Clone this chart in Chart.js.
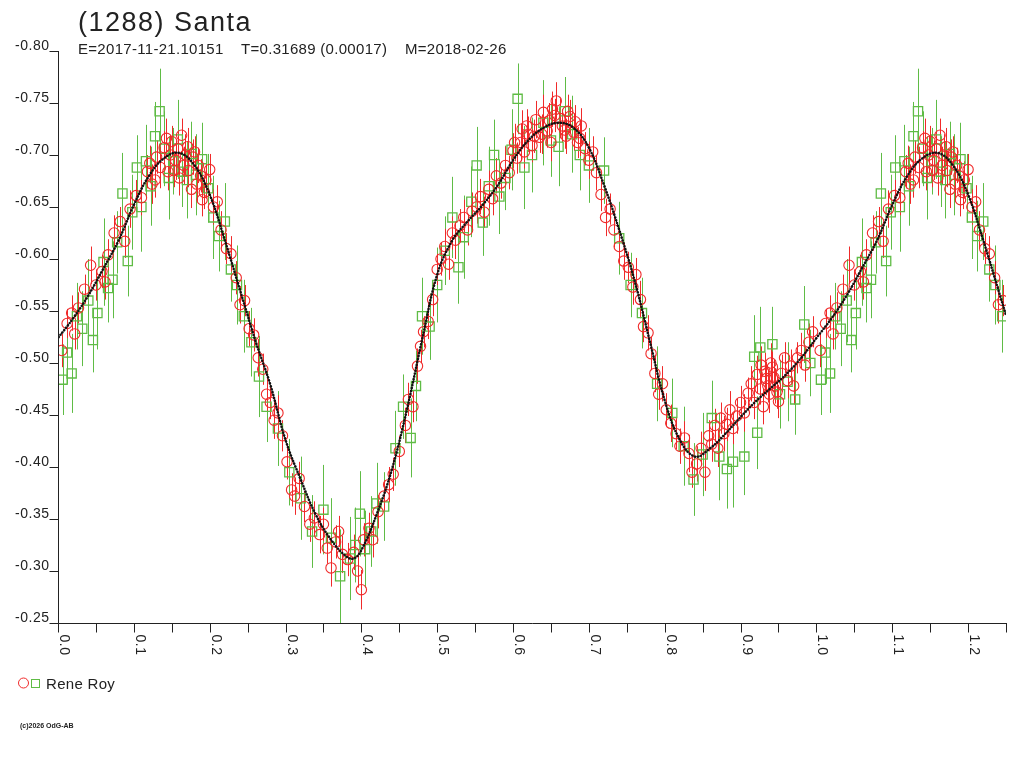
<!DOCTYPE html>
<html><head><meta charset="utf-8">
<script src="https://cdn.jsdelivr.net/npm/chart.js@4.4.0/dist/chart.umd.min.js"></script>
<style>html,body{margin:0;padding:0;background:#fff;overflow:hidden}canvas{display:block}</style>
</head><body>
<canvas id="c" width="1024" height="768"></canvas>
<script>
const titleText = "(1288) Santa";
const subE = "E=2017-11-21.10151";
const subT = "T=0.31689 (0.00017)";
const subM = "M=2018-02-26";
const legendLabel = "Rene Roy";
const creditText = "(c)2026 OdG-AB";

const xMajorTicks = [0.0,0.1,0.2,0.3,0.4,0.5,0.6,0.7,0.8,0.9,1.0,1.1,1.2];
const xMajorLabels = ["0.0","0.1","0.2","0.3","0.4","0.5","0.6","0.7","0.8","0.9","1.0","1.1","1.2"];
const xMinorTicks = [0.05,0.15,0.25,0.35,0.45,0.55,0.65,0.75,0.85,0.95,1.05,1.15,1.25];
const yTicks = [-0.80,-0.75,-0.70,-0.65,-0.60,-0.55,-0.50,-0.45,-0.40,-0.35,-0.30,-0.25];
const yLabels = ["-0.80","-0.75","-0.70","-0.65","-0.60","-0.55","-0.50","-0.45","-0.40","-0.35","-0.30","-0.25"];

// Red circles (phase, magnitude, error)
const redPhase = [0.005,0.012,0.018,0.027,0.035,0.043,0.050,0.058,0.066,0.074,0.082,0.088,0.095,0.103,0.110,0.118,0.124,0.130,0.135,0.140,
0.145,0.150,0.155,0.160,0.163,0.168,0.172,0.176,0.180,0.185,0.190,0.195,0.200,0.205,0.210,0.215,0.222,0.228,0.235,0.240,
0.246,0.252,0.258,0.264,0.270,0.275,0.280,0.285,0.290,0.296,0.302,0.308,0.312,0.318,0.325,0.332,0.338,0.345,0.350,0.355,
0.360,0.366,0.370,0.375,0.382,0.390,0.395,0.400,0.403,0.410,0.415,0.422,0.430,0.436,0.442,0.450,0.458,0.462,0.468,0.474,
0.478,0.482,0.488,0.494,0.500,0.505,0.510,0.515,0.520,0.524,0.530,0.535,0.540,0.546,0.552,0.557,0.562,0.568,0.573,0.578,
0.584,0.590,0.595,0.600,0.605,0.610,0.615,0.620,0.625,0.630,0.635,0.640,0.645,0.650,0.655,0.657,0.665,0.670,0.675,0.680,
0.685,0.690,0.695,0.700,0.705,0.710,0.716,0.722,0.728,0.733,0.740,0.746,0.752,0.758,0.762,0.768,0.772,0.778,0.782,0.787,
0.792,0.797,0.802,0.808,0.815,0.820,0.826,0.832,0.836,0.842,0.848,0.853,0.858,0.862,0.866,0.870,0.874,0.878,0.882,0.886,
0.890,0.895,0.900,0.905,0.910,0.914,0.918,0.922,0.926,0.930,0.934,0.938,0.942,0.946,0.950,0.954,0.958,0.962,0.966,0.970,
0.975,0.980,0.985,0.990,0.995,0.128,0.148,0.158,0.166,0.178,0.188,0.612,0.628,0.648,0.662,0.672,0.688,
0.932,0.936,0.940,0.944,0.948,0.927,0.121,0.143,0.153,0.171,0.183,0.193,0.602,0.618,0.638,0.652,0.668,0.682,0.022,0.062];
const redMag = [-0.512,-0.538,-0.548,-0.553,-0.571,-0.594,-0.575,-0.588,-0.604,-0.625,-0.636,-0.617,-0.648,-0.661,-0.659,-0.684,-0.672,-0.698,-0.688,-0.707,
-0.684,-0.713,-0.695,-0.678,-0.719,-0.700,-0.685,-0.667,-0.703,-0.690,-0.657,-0.676,-0.686,-0.650,-0.655,-0.628,-0.610,-0.605,-0.582,-0.556,
-0.560,-0.533,-0.527,-0.505,-0.494,-0.470,-0.462,-0.445,-0.452,-0.430,-0.405,-0.378,-0.372,-0.389,-0.362,-0.345,-0.351,-0.335,-0.345,-0.322,
-0.303,-0.328,-0.338,-0.316,-0.311,-0.318,-0.300,-0.282,-0.330,-0.341,-0.330,-0.357,-0.372,-0.383,-0.393,-0.415,-0.440,-0.465,-0.458,-0.497,
-0.516,-0.530,-0.540,-0.561,-0.590,-0.600,-0.612,-0.595,-0.625,-0.618,-0.632,-0.640,-0.628,-0.646,-0.650,-0.660,-0.645,-0.667,-0.658,-0.680,
-0.673,-0.690,-0.683,-0.704,-0.697,-0.712,-0.703,-0.720,-0.709,-0.734,-0.717,-0.741,-0.723,-0.712,-0.738,-0.752,-0.728,-0.718,-0.737,-0.722,
-0.712,-0.728,-0.706,-0.695,-0.703,-0.683,-0.662,-0.640,-0.648,-0.628,-0.612,-0.598,-0.592,-0.573,-0.585,-0.561,-0.535,-0.529,-0.509,-0.490,
-0.470,-0.480,-0.455,-0.442,-0.432,-0.420,-0.428,-0.413,-0.395,-0.403,-0.418,-0.395,-0.430,-0.422,-0.440,-0.418,-0.447,-0.432,-0.441,-0.455,
-0.437,-0.449,-0.462,-0.452,-0.471,-0.480,-0.462,-0.489,-0.475,-0.458,-0.485,-0.470,-0.496,-0.478,-0.463,-0.490,-0.505,-0.483,-0.497,-0.478,
-0.505,-0.512,-0.498,-0.520,-0.530,-0.676,-0.700,-0.706,-0.690,-0.698,-0.680,-0.725,-0.718,-0.733,-0.735,-0.742,-0.716,
-0.492,-0.478,-0.500,-0.486,-0.472,-0.498,-0.692,-0.716,-0.685,-0.708,-0.672,-0.664,-0.712,-0.728,-0.720,-0.744,-0.724,-0.732,-0.528,-0.578];
const redErr = [0.016,0.014,0.017,0.015,0.014,0.018,0.015,0.016,0.015,0.017,0.014,0.016,0.018,0.015,0.017,0.016,0.019,0.016,0.020,0.016,
0.018,0.015,0.019,0.017,0.016,0.020,0.016,0.018,0.015,0.017,0.016,0.018,0.015,0.017,0.016,0.018,0.015,0.017,0.016,0.018,
0.015,0.017,0.016,0.018,0.015,0.017,0.016,0.018,0.017,0.015,0.017,0.016,0.018,0.016,0.015,0.017,0.016,0.018,0.016,0.015,
0.018,0.016,0.015,0.018,0.016,0.017,0.016,0.019,0.016,0.015,0.017,0.016,0.015,0.017,0.016,0.015,0.017,0.016,0.015,0.017,
0.016,0.015,0.017,0.016,0.015,0.016,0.017,0.015,0.016,0.018,0.016,0.017,0.015,0.018,0.016,0.017,0.015,0.018,0.016,0.017,
0.015,0.018,0.016,0.017,0.015,0.018,0.016,0.017,0.016,0.018,0.015,0.017,0.016,0.018,0.016,0.018,0.016,0.017,0.016,0.018,
0.015,0.017,0.016,0.018,0.015,0.017,0.016,0.018,0.015,0.017,0.016,0.018,0.015,0.017,0.016,0.018,0.015,0.017,0.016,0.018,
0.015,0.017,0.016,0.018,0.015,0.017,0.016,0.018,0.015,0.017,0.016,0.018,0.015,0.017,0.016,0.018,0.015,0.017,0.016,0.018,
0.015,0.017,0.016,0.018,0.015,0.017,0.016,0.018,0.015,0.017,0.016,0.018,0.015,0.017,0.016,0.018,0.015,0.017,0.016,0.018,
0.015,0.017,0.016,0.018,0.015,0.017,0.019,0.016,0.018,0.017,0.016,0.018,0.016,0.017,0.019,0.016,0.017,
0.018,0.016,0.019,0.017,0.016,0.018,0.017,0.019,0.016,0.018,0.017,0.016,0.018,0.016,0.019,0.017,0.018,0.016,0.015,0.017];

// Green squares (phase, magnitude, error)
const greenPhase = [0.006,0.012,0.018,0.025,0.032,0.040,0.046,0.052,0.060,0.066,0.072,0.078,0.085,0.092,0.098,0.104,0.110,0.116,0.122,0.128,
0.134,0.140,0.146,0.152,0.158,0.164,0.170,0.176,0.182,0.190,0.198,0.205,0.212,0.220,0.228,0.236,0.245,0.255,0.265,0.275,
0.290,0.305,0.320,0.335,0.350,0.360,0.372,0.385,0.392,0.398,0.405,0.413,0.420,0.430,0.445,0.455,0.465,0.472,0.480,0.490,
0.500,0.510,0.520,0.528,0.535,0.545,0.552,0.560,0.568,0.575,0.582,0.590,0.598,0.606,0.615,0.625,0.640,0.650,0.660,0.668,
0.678,0.688,0.700,0.720,0.740,0.755,0.770,0.790,0.810,0.825,0.838,0.850,0.862,0.872,0.882,0.890,0.905,0.918,0.922,0.926,
0.942,0.952,0.962,0.972,0.984,0.992];
const greenMag = [-0.484,-0.510,-0.490,-0.545,-0.533,-0.560,-0.522,-0.548,-0.597,-0.572,-0.580,-0.616,-0.663,-0.598,-0.645,-0.688,-0.650,-0.694,-0.670,-0.718,
-0.742,-0.706,-0.678,-0.694,-0.715,-0.684,-0.676,-0.701,-0.681,-0.696,-0.668,-0.640,-0.622,-0.636,-0.590,-0.575,-0.545,-0.520,-0.487,-0.458,
-0.437,-0.395,-0.370,-0.338,-0.359,-0.332,-0.295,-0.312,-0.325,-0.355,-0.321,-0.338,-0.365,-0.362,-0.418,-0.458,-0.428,-0.478,-0.545,-0.535,
-0.575,-0.608,-0.640,-0.592,-0.621,-0.655,-0.690,-0.635,-0.670,-0.700,-0.660,-0.678,-0.705,-0.754,-0.688,-0.700,-0.731,-0.714,-0.708,-0.742,
-0.720,-0.700,-0.690,-0.685,-0.620,-0.575,-0.548,-0.480,-0.452,-0.420,-0.388,-0.412,-0.447,-0.410,-0.398,-0.405,-0.410,-0.506,-0.433,-0.515,
-0.518,-0.470,-0.482,-0.465,-0.537,-0.500];
const greenErr = [0.034,0.030,0.038,0.032,0.036,0.040,0.031,0.035,0.042,0.033,0.037,0.030,0.039,0.034,0.036,0.031,0.043,0.035,0.038,0.033,
0.041,0.036,0.040,0.032,0.038,0.034,0.037,0.031,0.039,0.035,0.033,0.040,0.034,0.037,0.031,0.038,0.035,0.033,0.039,0.034,
0.036,0.032,0.040,0.035,0.043,0.038,0.045,0.040,0.036,0.041,0.037,0.034,0.039,0.033,0.036,0.031,0.038,0.034,0.037,0.032,
0.036,0.033,0.039,0.035,0.040,0.034,0.037,0.032,0.038,0.034,0.036,0.031,0.039,0.034,0.040,0.036,0.041,0.035,0.038,0.033,
0.037,0.034,0.036,0.032,0.035,0.031,0.034,0.036,0.033,0.038,0.035,0.040,0.036,0.042,0.038,0.044,0.037,0.040,0.035,0.039,
0.036,0.033,0.038,0.034,0.037,0.032];

// Fitted model curve (phase, magnitude)
const modelPhase = [0.00,0.02,0.04,0.06,0.08,0.10,0.12,0.14,0.16,0.18,0.20,0.22,0.24,0.25,0.26,0.28,0.30,0.32,0.34,0.36,
0.38,0.39,0.40,0.42,0.44,0.46,0.48,0.50,0.52,0.54,0.56,0.58,0.60,0.62,0.64,0.66,0.68,0.70,0.72,0.74,
0.76,0.78,0.80,0.82,0.84,0.86,0.88,0.90,0.92,0.94,0.96,0.98,1.00];
const modelMag = [-0.524,-0.543,-0.565,-0.591,-0.618,-0.652,-0.680,-0.697,-0.702,-0.690,-0.662,-0.618,-0.570,-0.546,-0.522,-0.479,-0.426,-0.388,-0.354,-0.330,
-0.314,-0.312,-0.320,-0.354,-0.397,-0.455,-0.522,-0.585,-0.618,-0.636,-0.652,-0.671,-0.695,-0.714,-0.726,-0.731,-0.726,-0.707,-0.671,-0.628,
-0.580,-0.522,-0.464,-0.426,-0.410,-0.418,-0.432,-0.448,-0.463,-0.476,-0.489,-0.505,-0.524];

const X_MIN = 0, X_MAX = 1.25, Y_MIN = -0.80, Y_MAX = -0.25;
const RED = '#f02a2a', GREEN = '#5fbc45', INK = '#222222';

// Phase-folded plot: points with phase <= 0.25 are shown again one cycle later
function folded(ph, mg, er) {
  const out = [];
  for (let i = 0; i < ph.length; i++) {
    out.push({x: ph[i], y: mg[i], e: er ? er[i] : 0});
    if (ph[i] > 0 && ph[i] + 1 <= X_MAX) out.push({x: ph[i] + 1, y: mg[i], e: er ? er[i] : 0});
  }
  return out;
}
const redPts = folded(redPhase, redMag, redErr);
const greenPts = folded(greenPhase, greenMag, greenErr);
const modelPts = folded(modelPhase, modelMag, null).sort((a, b) => a.x - b.x);

const errBars = {
  id: 'errBars',
  beforeDatasetsDraw(chart) {
    const {ctx, chartArea: a} = chart;
    const xs = chart.scales.x, ys = chart.scales.y;
    ctx.save();
    ctx.beginPath(); ctx.rect(a.left, a.top, a.right - a.left, a.bottom - a.top); ctx.clip();
    ctx.lineWidth = 1;
    [[greenPts, GREEN], [redPts, RED]].forEach(([pts, col]) => {
      ctx.strokeStyle = col;
      ctx.beginPath();
      pts.forEach(p => {
        const X = Math.round(xs.getPixelForValue(p.x)) + 0.5;
        ctx.moveTo(X, ys.getPixelForValue(p.y - p.e));
        ctx.lineTo(X, ys.getPixelForValue(p.y + p.e));
      });
      ctx.stroke();
    });
    ctx.restore();
  }
};

const frame = {
  id: 'frame',
  afterDraw(chart) {
    const {ctx, chartArea: a} = chart;
    const xs = chart.scales.x, ys = chart.scales.y;
    ctx.save();
    ctx.strokeStyle = INK; ctx.fillStyle = INK; ctx.lineWidth = 1;
    const L = Math.round(a.left) + 0.5, B = Math.round(a.bottom) + 0.5;
    ctx.beginPath();
    ctx.moveTo(L, Math.round(a.top)); ctx.lineTo(L, B);
    ctx.moveTo(L, B); ctx.lineTo(Math.round(a.right) + 1, B);
    yTicks.forEach(v => {
      const Y = Math.round(ys.getPixelForValue(v)) + 0.5;
      ctx.moveTo(L - 9, Y); ctx.lineTo(L, Y);
    });
    xMajorTicks.concat(xMinorTicks).forEach(v => {
      const X = Math.round(xs.getPixelForValue(v)) + 0.5;
      ctx.moveTo(X, B); ctx.lineTo(X, B + 9);
    });
    ctx.stroke();

    ctx.font = '14px "Liberation Sans", Arial, sans-serif';
    ctx.letterSpacing = '0.5px';
    ctx.textAlign = 'right'; ctx.textBaseline = 'alphabetic';
    yTicks.forEach((v, i) => {
      const Y = ys.getPixelForValue(v);
      ctx.fillText(yLabels[i], L - 9, Y - 1);
    });
    ctx.textAlign = 'left';
    xMajorTicks.forEach((v, i) => {
      const X = xs.getPixelForValue(v);
      ctx.save();
      ctx.translate(X + 2, B + 11);
      ctx.rotate(Math.PI / 2);
      ctx.fillText(xMajorLabels[i], 0, 0);
      ctx.restore();
    });

    ctx.letterSpacing = '1.5px';
    ctx.font = '27px "Liberation Sans", Arial, sans-serif';
    ctx.fillText(titleText, 78, 31);
    ctx.letterSpacing = '0.3px';
    ctx.font = '15px "Liberation Sans", Arial, sans-serif';
    ctx.fillText(subE, 78, 54);
    ctx.fillText(subT, 241, 54);
    ctx.fillText(subM, 405, 54);

    ctx.lineWidth = 1;
    ctx.strokeStyle = RED;
    ctx.beginPath(); ctx.arc(23.5, 683, 5, 0, Math.PI * 2); ctx.stroke();
    ctx.strokeStyle = GREEN;
    ctx.strokeRect(31.5, 679.5, 8, 8);
    ctx.fillStyle = INK;
    ctx.letterSpacing = '0.3px';
    ctx.font = '15px "Liberation Sans", Arial, sans-serif';
    ctx.fillText(legendLabel, 46, 689);

    ctx.letterSpacing = '0px';
    ctx.font = 'bold 7px "Liberation Sans", Arial, sans-serif';
    ctx.fillText(creditText, 20, 728);
    ctx.restore();
  }
};

new Chart(document.getElementById('c'), {
  type: 'scatter',
  data: {
    datasets: [
      {label: 'model', type: 'line', data: modelPts, borderColor: '#111', borderWidth: 2.4, borderDash: [2, 1],
       pointRadius: 0, tension: 0.4, fill: false, order: 0},
      {label: 'model2', type: 'line', data: modelPts, borderColor: '#111', borderWidth: 1,
       pointRadius: 0, tension: 0.4, fill: false, order: 1},
      {label: 'Rene Roy A', data: redPts, pointStyle: 'circle', pointRadius: 5.2, borderColor: RED, borderWidth: 1.1,
       backgroundColor: 'rgba(0,0,0,0)', order: 2},
      {label: 'Rene Roy B', data: greenPts, pointStyle: 'rect', pointRadius: 6.5, borderColor: GREEN, borderWidth: 1.3,
       backgroundColor: 'rgba(0,0,0,0)', order: 3}
    ]
  },
  options: {
    responsive: false, animation: false, devicePixelRatio: 1,
    layout: {padding: {left: 58, top: 51, right: 18, bottom: 145}},
    plugins: {legend: {display: false}, tooltip: {enabled: false}},
    scales: {
      x: {type: 'linear', min: X_MIN, max: X_MAX, display: false},
      y: {type: 'linear', min: Y_MIN, max: Y_MAX, reverse: true, display: false}
    }
  },
  plugins: [errBars, frame]
});
</script>
</body></html>
